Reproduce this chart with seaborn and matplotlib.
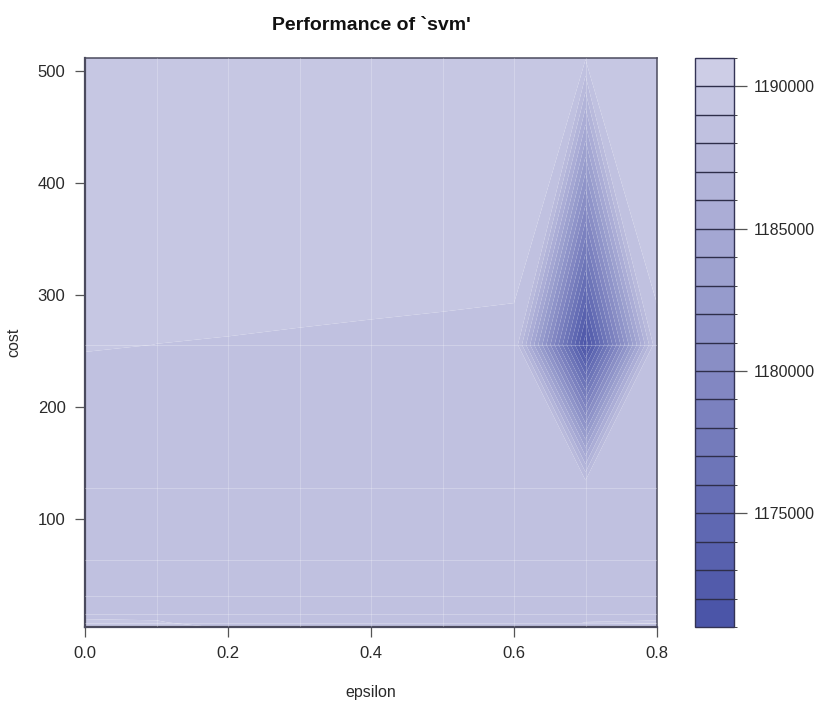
import numpy as np
import matplotlib
matplotlib.use("Agg")
import matplotlib.pyplot as plt
import seaborn as sns

# tuning grid
epsilon = [0.0, 0.1, 0.2, 0.3, 0.4, 0.5, 0.6, 0.7, 0.8]
cost = [4, 8, 16, 32, 64, 128, 256, 512]

# cross-validated error, one list per cost value (columns follow epsilon)
err_c4 = [1189060, 1189050, 1188985, 1188700, 1188650, 1188700, 1188750, 1188850, 1188900]
err_c8 = [1189030, 1189020, 1188900, 1188650, 1188600, 1188650, 1188800, 1189010, 1189030]
err_c16 = [1188950, 1188940, 1188800, 1188600, 1188550, 1188600, 1188700, 1188850, 1188900]
err_c32 = [1188600, 1188550, 1188500, 1188500, 1188500, 1188500, 1188550, 1188600, 1188650]
err_c64 = [1188550, 1188550, 1188550, 1188550, 1188550, 1188550, 1188600, 1188700, 1188650]
err_c128 = [1188620, 1188600, 1188600, 1188600, 1188600, 1188600, 1188650, 1188960, 1188650]
err_c256 = [1189020, 1188999, 1188991, 1188981, 1188971, 1188961, 1188949, 1171400, 1188950]
err_c512 = [1189300, 1189300, 1189300, 1189300, 1189300, 1189300, 1189300, 1189100, 1189300]

levels = list(range(1171000, 1191001, 1000))
cbar_ticks = [1175000, 1180000, 1185000, 1190000]

sns.set_style("white")
plt.rcParams["font.family"] = ["Liberation Sans", "DejaVu Sans"]

err = np.array([err_c4, err_c8, err_c16, err_c32, err_c64,
                err_c128, err_c256, err_c512], dtype=float)

n_bands = len(levels) - 1
band_colors = sns.blend_palette(["#4b55a8", "#cdcde6"], n_colors=n_bands)
cmap = matplotlib.colors.ListedColormap(band_colors)
norm = matplotlib.colors.BoundaryNorm(levels, cmap.N)

W, H = 818, 720
fig = plt.figure(figsize=(W / 100, H / 100), dpi=100)
ax = fig.add_axes([85 / W, 1 - 627 / H, 572 / W, 569 / H])
cax = fig.add_axes([695 / W, 1 - 627 / H, 39 / W, 569 / H])

X, Y = np.meshgrid(epsilon, cost)
cs = ax.contourf(X, Y, err, levels=levels, cmap=cmap, norm=norm, antialiased=True)

# faint seams along the grid cells
for e in epsilon[1:-1]:
    ax.axvline(e, color="white", alpha=0.22, lw=0.8, zorder=3)
for c in cost[1:-1]:
    ax.axhline(c, color="white", alpha=0.25, lw=0.8, zorder=3)

ax.set_xlim(min(epsilon), max(epsilon))
ax.set_ylim(min(cost), max(cost))
ax.set_xticks([0.0, 0.2, 0.4, 0.6, 0.8])
ax.set_xticklabels(["0.0", "0.2", "0.4", "0.6", "0.8"])
ax.set_yticks([100, 200, 300, 400, 500])

text_color = "#2a2a2a"
ax.tick_params(axis="both", which="major", direction="out", length=7, width=0.9,
               color="#555555", labelsize=12, labelcolor=text_color, pad=7,
               bottom=True, left=True)
for s in ax.spines.values():
    s.set_color("#4b4b5e")
    s.set_linewidth(1.1)
ax.spines["left"].set_linewidth(1.6)
ax.spines["bottom"].set_linewidth(1.6)

ax.set_xlabel("epsilon", fontsize=11.5, color=text_color, labelpad=17)
ax.set_ylabel("cost", fontsize=11.5, color=text_color, labelpad=12)
ax.set_title("Performance of `svm'", fontsize=14, fontweight="bold",
             color="#111111", pad=20)

cb = fig.colorbar(cs, cax=cax, drawedges=True)
cb.outline.set_edgecolor("#333355")
cb.outline.set_linewidth(1.0)
cb.dividers.set_color("#2e2e4a")
cb.dividers.set_linewidth(1.0)
cb.set_ticks(cbar_ticks)
cb.set_ticklabels([str(t) for t in cbar_ticks])
cax.tick_params(direction="out", length=9, width=0.9, color="#555555",
                labelsize=11.5, labelcolor=text_color, pad=5, right=True)

fig.savefig("out.png", dpi=100)
